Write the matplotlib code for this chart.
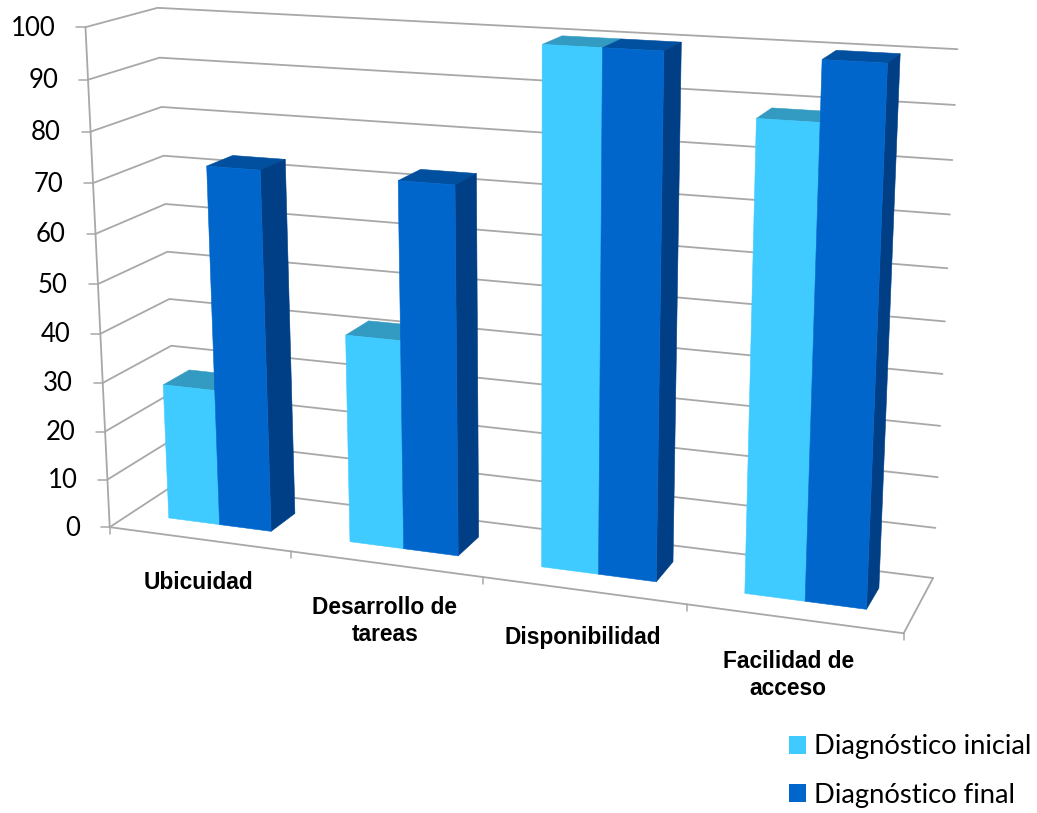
import numpy as np
import matplotlib
matplotlib.use('Agg')
import matplotlib.pyplot as plt
from matplotlib.patches import Polygon, Patch

# Chart data
categories = ['Ubicuidad', 'Desarrollo de\ntareas', 'Disponibilidad', 'Facilidad de\nacceso']
diagnostico_inicial = [28, 42, 100, 89]
diagnostico_final = [73, 73, 100, 100]
series_names = ['Diagnóstico inicial', 'Diagnóstico final']
value_ticks = list(range(0, 101, 10))

# Colours: front, top and side faces of each series
LIGHT_FRONT, LIGHT_TOP = '#3FCBFF', '#339BC2'
DARK_FRONT, DARK_TOP, DARK_SIDE = '#0066CC', '#00509F', '#003F86'
GRID = '#A8A8A8'

# Perspective camera of the 3D box, solved from reference points of its frame.
# Box coordinates: u = category position, v = value, w = depth (0 front, 1 back).
frame_u = [0] * 9 + [0] * 6 + [4] * 11 + [1, 2, 3, 4]
frame_v = [100, 90, 80, 70, 60, 30, 20, 10, 0,
           100, 90, 80, 70, 60, 50,
           100, 90, 80, 70, 60, 50, 40, 30, 20, 10, 0,
           0, 0, 0, 0]
frame_w = [0] * 9 + [1] * 6 + [1] * 11 + [0] * 4
frame_x = [85, 88, 91, 93, 96, 103, 105, 107, 110,
           158, 159.5, 161, 164, 165, 167,
           958, 955, 952, 949, 947, 945, 943, 940, 938, 936, 933,
           291, 484, 687, 903]
frame_y = [27, 80, 132, 183, 233, 382, 431, 479, 526,
           8, 58, 107, 156, 204, 252,
           49, 105, 160, 213, 268, 322, 374, 428, 478, 528, 575,
           553, 580, 605, 632]


def solve_camera():
    rows = []
    for u, v, w, x, y in zip(frame_u, frame_v, frame_w, frame_x, frame_y):
        X = [u, v / 100, w, 1]
        rows.append(X + [0, 0, 0, 0] + [-x / 1000 * c for c in X])
        rows.append([0, 0, 0, 0] + X + [-y / 1000 * c for c in X])
    return np.linalg.svd(np.array(rows))[2][-1].reshape(3, 4)


CAMERA = solve_camera()


def project(u, v, w):
    h = CAMERA @ np.array([u, v / 100, w, 1.0])
    return h[0] / h[2] * 1000, h[1] / h[2] * 1000


fig = plt.figure(figsize=(10.37, 8.13), dpi=100)
ax = fig.add_axes([0, 0, 1, 1])
ax.set_xlim(0, 1037)
ax.set_ylim(813, 0)
ax.axis('off')


def line(points, lw=1.3):
    xs, ys = zip(*points)
    ax.plot(xs, ys, color=GRID, lw=lw, solid_capstyle='round', solid_joinstyle='miter', zorder=1)


def face(corners, color, z):
    ax.add_patch(Polygon([project(*c) for c in corners], closed=True, facecolor=color,
                         edgecolor=color, lw=0.4, zorder=z))


# Walls: gridlines run along the side wall and then the back wall
n_cat = len(categories)
for v in value_ticks:
    line([project(0, v, 0), project(0, v, 1), project(n_cat, v, 1)])
    x, y = project(0, v, 0)
    line([(x - 9, y), (x, y)], lw=1.1)
    ax.text(x - 30, y + 1, str(v), ha='right', va='center', fontsize=18.5,
            family='Lato', color='black')

# Value axis, floor outline and category ticks
line([project(0, 0, 0), project(0, 100, 0)])
line([project(0, 0, 0), project(n_cat, 0, 0), project(n_cat, 0, 1)])
for i in range(n_cat + 1):
    x, y = project(i, 0, 0)
    line([(x, y), (x, y + 7)], lw=1.1)

# Two bars per category with a 150 % gap, occupying the middle of the depth
bar_width = 1 / 3.5
bar_start = 0.75 * bar_width
w0, w1 = 0.31, 0.70

for i, (a, b) in enumerate(zip(diagnostico_inicial, diagnostico_final)):
    z = 2 + i * 0.1
    ua, um, ub = i + bar_start, i + bar_start + bar_width, i + bar_start + 2 * bar_width
    # first series
    face([(ua, a, w0), (ua, a, w1), (um, a, w1), (um, a, w0)], LIGHT_TOP, z)
    face([(ua, 0, w0), (ua, a, w0), (um, a, w0), (um, 0, w0)], LIGHT_FRONT, z + 0.01)
    # second series
    face([(um, b, w0), (um, b, w1), (ub, b, w1), (ub, b, w0)], DARK_TOP, z + 0.02)
    face([(ub, 0, w0), (ub, b, w0), (ub, b, w1), (ub, 0, w1)], DARK_SIDE, z + 0.02)
    face([(um, 0, w0), (um, b, w0), (ub, b, w0), (ub, 0, w0)], DARK_FRONT, z + 0.03)

# Category labels below the floor edge
label_u = [0.495, 1.495, 2.495, 3.475]
label_drop = [43, 57, 47, 57]
for name, u, drop in zip(categories, label_u, label_drop):
    x, y = project(u, 0, 0)
    ax.text(x, y + drop, name, ha='center', va='center', fontsize=16.4, fontweight='bold',
            family='Liberation Sans', color='black', linespacing=1.2, multialignment='center')

handles = [Patch(facecolor=LIGHT_FRONT), Patch(facecolor=DARK_FRONT)]
ax.legend(handles, series_names, loc='lower right', bbox_to_anchor=(1037, 813),
          bbox_transform=ax.transData, frameon=False, prop={'family': 'Lato', 'size': 19.7},
          handlelength=0.62, handleheight=0.62, handletextpad=0.3, labelspacing=0.85,
          borderaxespad=0, borderpad=0.2)

fig.savefig('out.png', dpi=100)
